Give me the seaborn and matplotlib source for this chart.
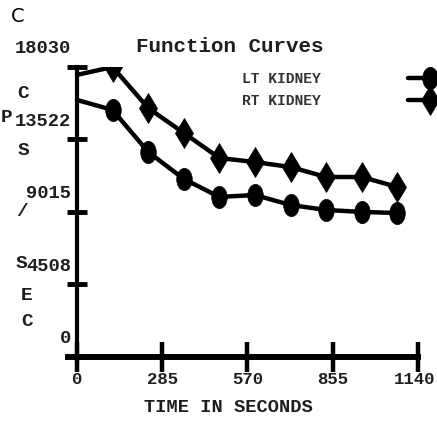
import matplotlib
matplotlib.use("Agg")
import matplotlib.pyplot as plt
import seaborn as sns
from matplotlib.path import Path
from matplotlib.transforms import Affine2D, ScaledTranslation

# renogram counts
TIME_S = [0, 119, 238, 357, 476, 595, 714, 833, 952, 1071]
LT_KIDNEY = [15980, 15360, 12750, 11070, 9950, 10070, 9450, 9140, 9020, 8950]
RT_KIDNEY = [17540, 18030, 15480, 13930, 12370, 12120, 11810, 11190, 11190, 10570]
SERIES_NAMES = ["LT KIDNEY", "RT KIDNEY"]
X_TICKS = [0, 285, 570, 855, 1140]
Y_TICKS = [0, 4508, 9015, 13522, 18030]
Y_LETTERS = ["C", "P", "S", "/", "S", "E", "C"]

W, H = 437, 421
INK = "#1e1e1e"


def fx(px):
    return px / W


def fy(py):
    return 1 - py / H


sns.set_theme(style="ticks")
plt.rcParams["font.family"] = ["Liberation Mono", "DejaVu Sans Mono"]
plt.rcParams["font.weight"] = "bold"

fig = plt.figure(figsize=(W / 100, H / 100), dpi=100)
ax = fig.add_axes([fx(68), fy(363.4), (418 - 68) / W, (363.4 - 67) / H])

ellipse = Path.unit_circle().transformed(Affine2D().scale(0.7, 1.0))
line_kw = dict(color="black", linewidth=3.2, markersize=16, markeredgecolor="black",
               markeredgewidth=0.5, markevery=slice(1, None), ax=ax)
sns.lineplot(x=TIME_S, y=LT_KIDNEY, marker=ellipse, label=SERIES_NAMES[0], **line_kw)
sns.lineplot(x=TIME_S, y=RT_KIDNEY, marker="d", label=SERIES_NAMES[1],
             **{**line_kw, "markersize": 15})

ax.set_xlim(-30, 1140)
ax.set_ylim(-400, 18030)
sns.despine(ax=ax)
ax.spines["left"].set_position(("data", 0))
ax.spines["bottom"].set_position(("data", 0))
ax.spines["left"].set_linewidth(3)
ax.spines["bottom"].set_linewidth(4.3)
ax.spines["left"].set_color("black")
ax.spines["bottom"].set_color("black")

ax.set_xticks(X_TICKS)
ax.set_xticklabels([str(v) for v in X_TICKS])
ax.set_yticks(Y_TICKS)
ax.set_yticklabels([str(v) for v in Y_TICKS])
ax.tick_params(axis="x", direction="inout", length=22, width=3.2, pad=0,
               labelsize=12.5, color="black", labelcolor=INK)
ax.tick_params(axis="y", direction="inout", length=14.5, width=3.5, pad=-3,
               labelsize=13.5, color="black", labelcolor=INK)
# y labels sit above their ticks in the original
shift = ScaledTranslation(0, 0.20, fig.dpi_scale_trans)
for lab in ax.get_yticklabels():
    lab.set_transform(lab.get_transform() + shift)
# last x label hugs the right edge
ax.get_xticklabels()[-1].set_horizontalalignment("right")
ax.get_xticklabels()[-1].set_transform(
    ax.get_xticklabels()[-1].get_transform() + ScaledTranslation(0.17, 0, fig.dpi_scale_trans))

ax.set_xlabel("TIME IN SECONDS", fontsize=13.5, color=INK, fontweight="bold")
ax.xaxis.set_label_coords((228 - 68) / 350, -0.12)
ax.set_ylabel("")

# vertical axis caption, one letter per row
letter_pos = [(23, 94), (7, 117), (23, 150), (22, 212), (21, 263), (27, 296), (27, 321)]
for ch, (px, py) in zip(Y_LETTERS, letter_pos):
    fig.text(fx(px), fy(py), ch, ha="center", va="center", fontsize=14, color=INK)

fig.text(fx(230), fy(47), "Function Curves", ha="center", va="center", fontsize=15,
         color=INK)
fig.text(fx(11), fy(17), "C", ha="left", va="center", fontsize=14, family="DejaVu Sans",
         fontweight="normal", color="black")

ax.legend(loc="center left", bbox_to_anchor=(fx(242), fy(90)), bbox_transform=fig.transFigure,
          frameon=False, markerfirst=False, handlelength=3, handletextpad=6.0,
          labelspacing=0.6, borderpad=0, borderaxespad=0,
          prop={"size": 10.5, "family": ["Liberation Mono", "DejaVu Sans Mono"]},
          labelcolor="#333333")

fig.savefig("out.png", dpi=100, facecolor="white")
